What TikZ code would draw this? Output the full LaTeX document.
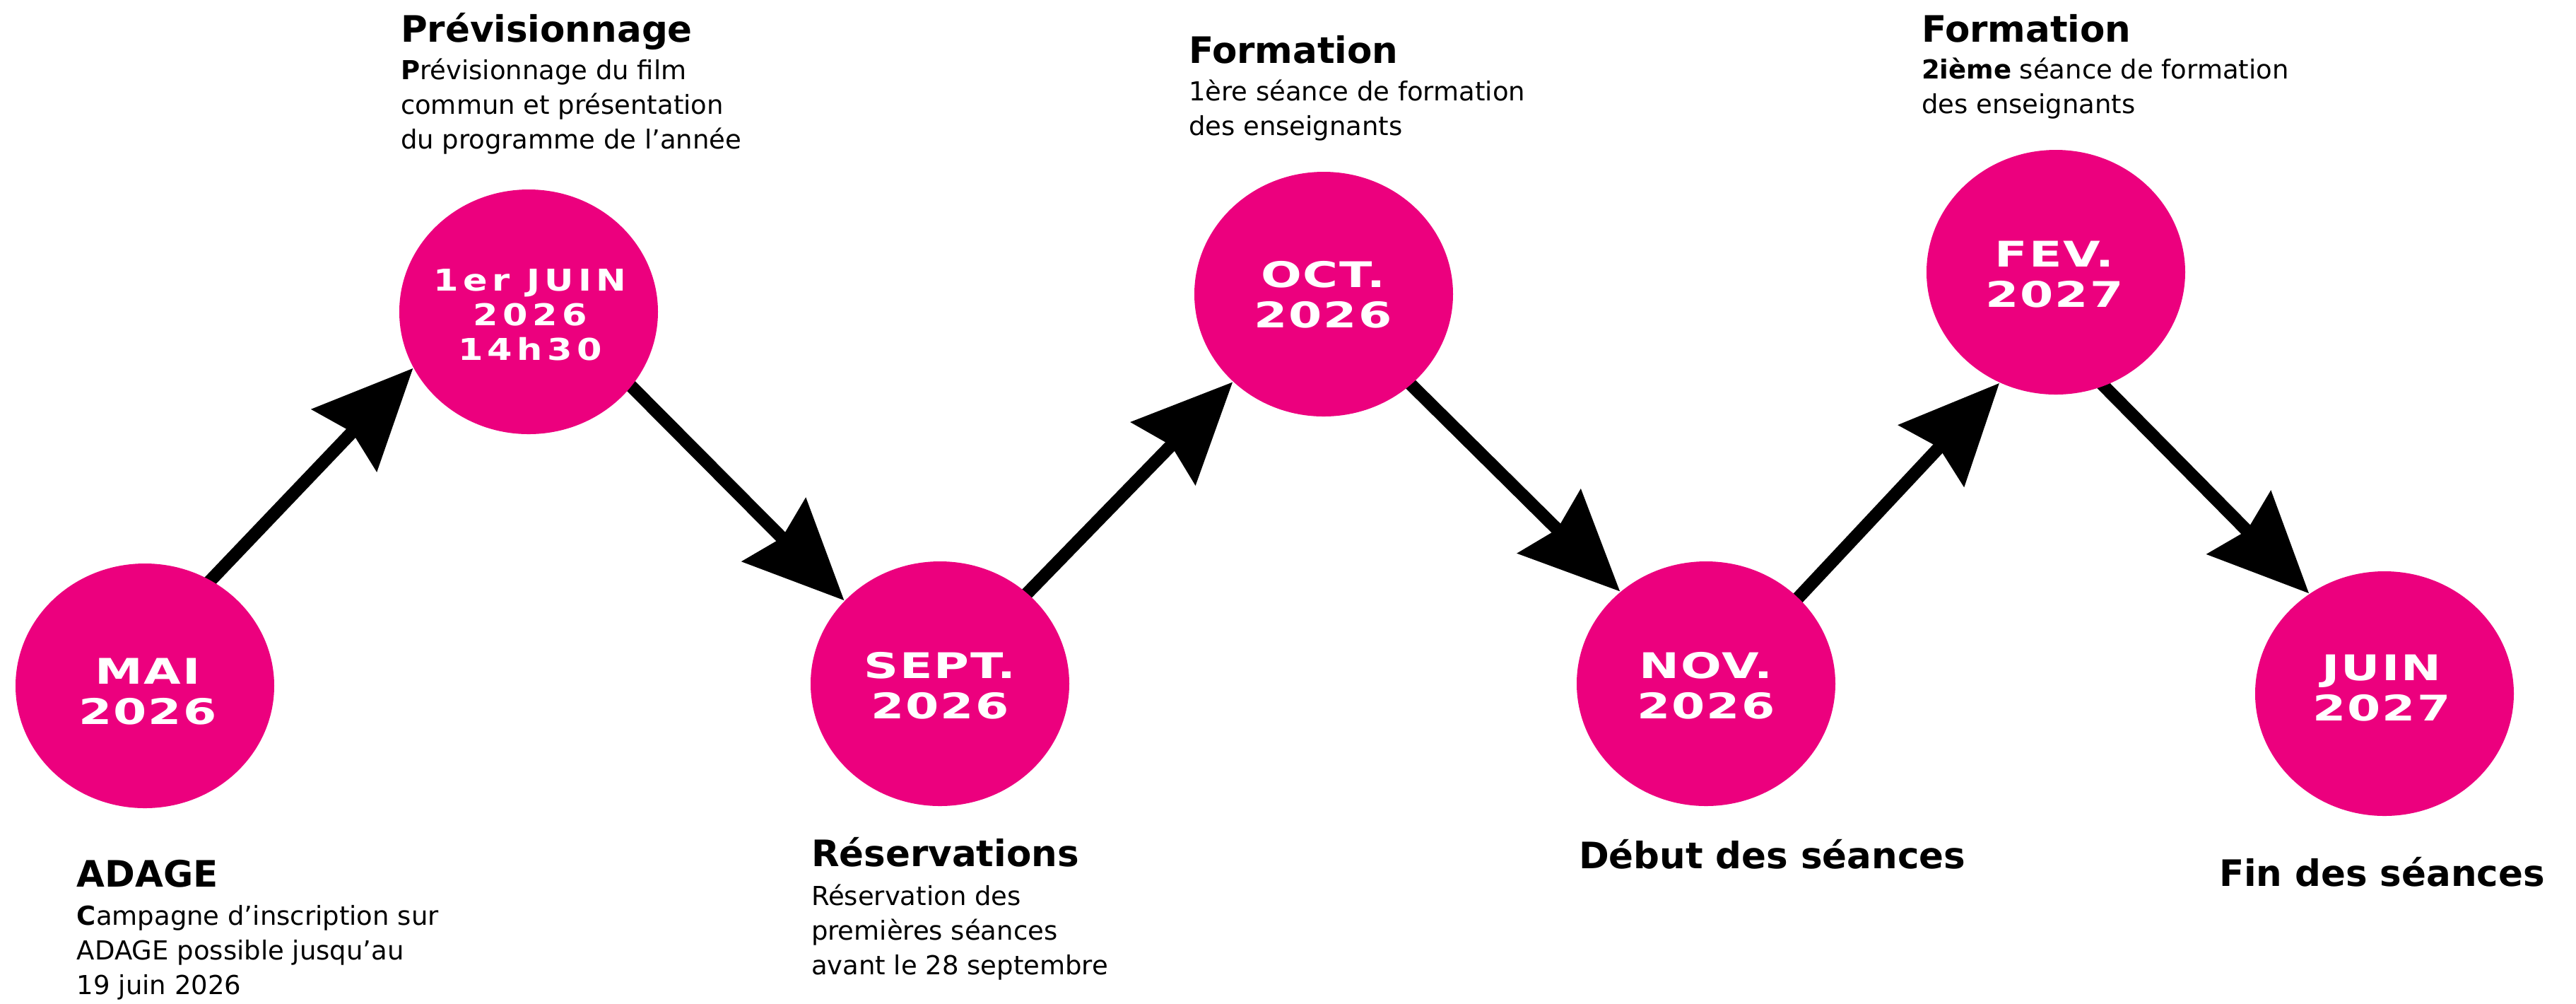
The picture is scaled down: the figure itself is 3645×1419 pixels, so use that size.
\documentclass[tikz,border=0pt]{standalone}
\usepackage{fontspec}
\setmainfont{DejaVu Sans}
\newfontfamily\circfont[FakeStretch=1.36,LetterSpace=4]{DejaVu Sans}
\newfontfamily\juinfont[FakeStretch=1.2,LetterSpace=15]{DejaVu Sans}
\usetikzlibrary{shapes.geometric,arrows.meta,backgrounds}
\definecolor{rose}{HTML}{EC007E}
\tikzset{
  dot/.style={ellipse, fill=rose, minimum width=73.2pt, minimum height=69.2pt, inner sep=0pt},
  datetxt/.style={text=white, align=center, inner sep=0pt, font=\circfont\bfseries\fontsize{10}{11.5}\selectfont},
  juintxt/.style={text=white, align=center, inner sep=0pt, font=\juinfont\bfseries\fontsize{8.5}{9.8}\selectfont},
  ttl/.style={anchor=base west, inner sep=0pt, font=\bfseries\fontsize{10.3}{12}\selectfont},
  bodytxt/.style={anchor=base west, inner sep=0pt, align=left, font=\fontsize{7.4}{9.8}\selectfont},
  arr/.style={line width=3.6pt, shorten <=-4pt, -{Stealth[length=28pt, width=25pt, inset=3pt]}}
}
\begin{document}
\begin{tikzpicture}[x=0.2pt, y=-0.2pt]
\useasboundingbox (0,0) rectangle (3645,1419);
% circles
\node[dot] (mai) at (205,970) {};
\node[dot] (juin) at (748,441) {};
\node[dot] (sept) at (1330,967) {};
\node[dot] (oct) at (1873,416) {};
\node[dot] (nov) at (2414,967) {};
\node[dot] (fev) at (2909,385) {};
\node[dot] (juinb) at (3374,981) {};
% circle texts
\node[datetxt] (tmai) at (209,978) {MAI\\2026};
\node[juintxt] (tjuin) at (750,445) {1er JUIN\\2026\\14h30};
\node[datetxt] (tsept) at (1330,970) {SEPT.\\2026};
\node[datetxt] (toct) at (1872,417) {OCT.\\2026};
\node[datetxt] (tnov) at (2414,970) {NOV.\\2026};
\node[datetxt] (tfev) at (2907,388) {FEV.\\2027};
\node[datetxt] (tjuinb) at (3370,973) {JUIN\\2027};
% arrows
\begin{pgfonlayer}{background}
\draw[arr] (mai.58) -- (juin.206);
\draw[arr] (juin.324) -- (sept.139);
\draw[arr] (sept.46) -- (oct.224);
\draw[arr] (oct.314) -- (nov.133);
\draw[arr] (nov.43) -- (fev.243);
\draw[arr] (fev.293) -- (juinb.127);
\end{pgfonlayer}
% labels (multi-line body nodes: base = baseline of last line)
\node[ttl] (h1) at (566,59) {Prévisionnage};
\node[bodytxt] (b1) at (566,210) {{\bfseries P}révisionnage du film\\commun et présentation\\du programme de l’année};
\node[ttl] (h0) at (108,1254) {ADAGE};
\node[bodytxt] (b0) at (108,1406) {{\bfseries C}ampagne d’inscription sur\\ADAGE possible jusqu’au\\19 juin 2026};
\node[ttl] (h2) at (1147,1225) {Réservations};
\node[bodytxt] (b2) at (1147,1378) {Réservation des\\premières séances\\avant le 28 septembre};
\node[ttl] (h3) at (1681,89) {Formation};
\node[bodytxt] (b3) at (1681,191) {1ère séance de formation\\des enseignants};
\node[ttl] (h5) at (2718,59) {Formation};
\node[bodytxt] (b5) at (2718,160) {{\bfseries 2ième} séance de formation\\des enseignants};
\node[ttl] (h4) at (2233,1228) {Début des séances};
\node[ttl] (h6) at (3139,1253) {Fin des séances};
\end{tikzpicture}
\end{document}
